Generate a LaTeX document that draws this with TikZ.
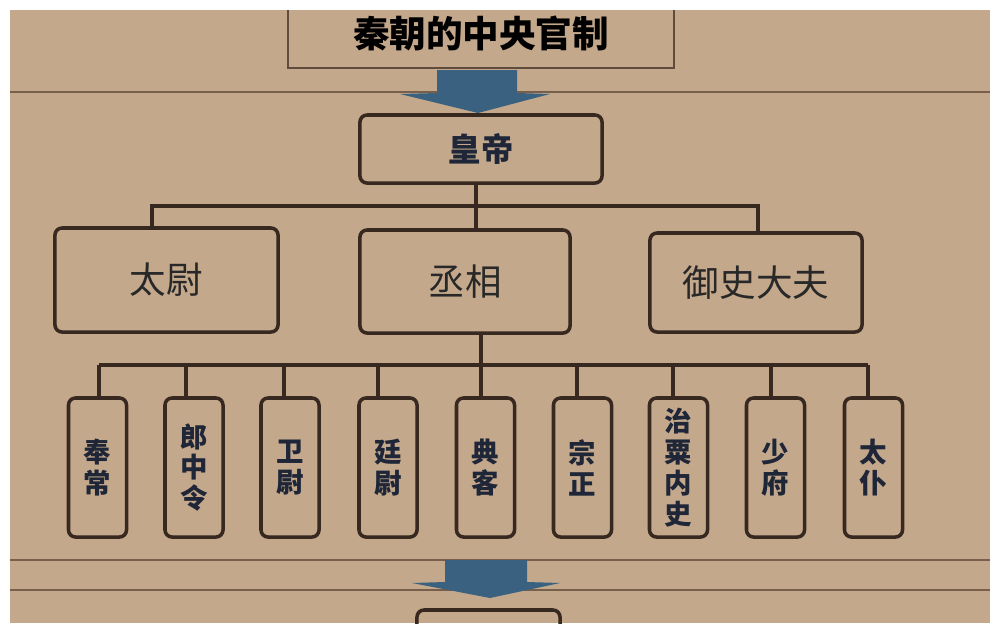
\documentclass[tikz,border=0pt]{standalone}
\usepackage{fontspec}
\newfontfamily\cjk{Noto Sans CJK SC}
\usetikzlibrary{calc}
\definecolor{paper}{RGB}{196,168,140}
\definecolor{linec}{RGB}{55,40,32}
\definecolor{rulec}{RGB}{120,95,75}
\definecolor{arrowc}{RGB}{58,98,128}
\definecolor{navy}{RGB}{30,38,55}
\definecolor{graytext}{RGB}{40,40,40}
\tikzset{
  box/.style={draw=linec, line width=2.5pt, rounded corners=5pt, inner sep=0pt},
  conn/.style={draw=linec, line width=2.5pt},
  rule/.style={draw=rulec, line width=1.8pt},
  bigarrow/.style={fill=arrowc, draw=none},
  midbox/.style={box, font=\cjk\fontsize{26}{30}\selectfont, text=graytext},
  smallbox/.style={box, minimum width=1.45cm, minimum height=3.475cm, align=center,
    font=\cjk\bfseries\fontsize{19.5}{22}\selectfont, text=navy}
}
\begin{document}
\begin{tikzpicture}[x=0.025cm,y=-0.025cm]
\useasboundingbox (0,0) rectangle (1000,634);
\fill[white] (0,0) rectangle (1000,634);
\begin{scope}
\clip (10,10) rectangle (990,623);
\fill[paper] (10,10) rectangle (990,623);
% ruled lines
\draw[rule] (10,92) -- (990,92);
\draw[rule] (10,560) -- (990,560);
\draw[rule] (10,590) -- (990,590);
% title box
\node[draw=rulec!80!black, line width=1.5pt, minimum width=9.65cm, minimum height=1.75cm,
      font=\cjk\bfseries\fontsize{26}{30}\selectfont, text=black] (title) at (481,33) {秦朝的中央官制};
% top arrow
\fill[bigarrow] (437,70) -- (517,70) -- (517,93) -- (550,94) -- (478,113) -- (400,94) -- (437,93) -- cycle;
% emperor
\node[box, minimum width=6.05cm, minimum height=1.7cm, font=\cjk\bfseries\fontsize{23}{27}\selectfont, text=navy] (hd) at (481,149) {皇帝};
% middle row
\node[midbox, minimum width=5.575cm, minimum height=2.6cm] (tw) at (166.5,280) {太尉};
\node[midbox, minimum width=5.25cm, minimum height=2.575cm] (cx) at (465,281.5) {丞相};
\node[midbox, minimum width=5.3cm, minimum height=2.475cm] (ys) at (756,282.5) {御史大夫};
% top bus
\coordinate (bus) at (476,206);
\draw[conn] ($(hd.south)+(-5,0)$) -- (bus) -- ($(cx.north)+(11,0)$);
\draw[conn] ($(tw.north)+(-14.5,0)$) |- (bus) -| ($(ys.north)+(2,0)$);
% nine ministers
\node[smallbox] (b1) at (97.5,467.5) {奉\\常};
\node[smallbox] (b2) at (194,467.5) {郎\\中\\令};
\node[smallbox] (b3) at (290,467.5) {卫\\尉};
\node[smallbox] (b4) at (388,467.5) {廷\\尉};
\node[smallbox] (b5) at (485.5,467.5) {典\\客};
\node[smallbox] (b6) at (582.5,467.5) {宗\\正};
\node[smallbox] (b7) at (678.5,467.5) {治\\粟\\内\\史};
\node[smallbox] (b8) at (775.5,467.5) {少\\府};
\node[smallbox] (b9) at (873.5,467.5) {太\\仆};
% lower bus
\coordinate (t1) at (99,365);
\coordinate (t2) at (186,365);
\coordinate (t3) at (284,365);
\coordinate (t4) at (378,365);
\coordinate (t5) at (481,365);
\coordinate (t6) at (577,365);
\coordinate (t7) at (673,365);
\coordinate (t8) at (771,365);
\coordinate (t9) at (868,365);
\draw[conn] ($(cx.south)+(16,0)$) -- (t5);
\draw[conn] (t1) -- (t9);
\foreach \i in {1,...,9} {\draw[conn] (t\i) -- (t\i |- b\i.north);}
% bottom arrow
\fill[bigarrow] (445,560) -- (527,560) -- (527,582) -- (560,583) -- (490,598) -- (412,583) -- (445,582) -- cycle;
% bottom box (cut off)
\node[box, minimum width=3.575cm, minimum height=2cm] (next) at (488.5,650) {};
\end{scope}
\end{tikzpicture}
\end{document}
